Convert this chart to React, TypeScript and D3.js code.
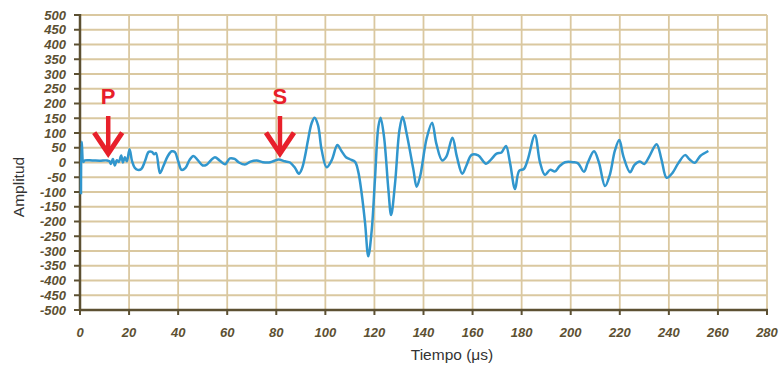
import React from 'react';
import * as d3 from 'd3';

// waveform samples
const timeUs = [
  0.4, 0.7, 1.4, 2, 5, 8, 11, 12, 12.6, 13.4, 14.2, 15.0, 15.8, 16.8, 17.5, 18.3, 19.1, 20.2, 21.2,
  22.3, 23.5, 25.0, 26.5, 28.0, 29.3, 30.2, 31.0, 32.6, 34.0, 35.8, 37.4, 38.7, 40.0, 41.4, 43.0,
  44.6, 46.2, 48.0, 50.0, 51.5, 53.2, 55.0, 57.0, 59.1, 61.1, 63.0, 64.8, 67.2, 69.5, 72.0, 74.5,
  77.0, 79.0, 81.0, 83.5, 85.6, 87.6, 89.2, 90.5, 91.8, 92.8, 94.4, 95.6, 97.0, 98.5, 100.5, 102.6,
  104.9, 106.5, 108.4, 110.0, 112.1, 113.4, 114.8, 116.2, 117.5, 118.9, 120.2, 121.6, 122.5, 123.9,
  125.7, 126.8, 128.4, 130.2, 131.5, 133.1, 135.9, 137.2, 138.6, 141.3, 143.5, 145.2, 147.6, 149.3,
  151.8, 153.6, 155.8, 157.5, 159.6, 162.3, 165.5, 167.5, 169.8, 171.8, 173.6, 175.3, 177.3, 179.0,
  180.9, 182.5, 185.4, 187.5, 189.5, 191.6, 193.6, 195.5, 197.7, 201.1, 203.0, 205.4, 207.0, 209.5,
  211.5, 214.0, 216.0, 218.0, 219.8, 221.5, 224.2, 226.0, 228.2, 230.0, 232.0, 235.0, 237.0, 239.1,
  241.5, 243.8, 246.6, 248.5, 250.6, 252.8, 256.1,
];
const amplitude = [
  -108, 70, 2, 7, 7, 6, 7, 4, -5, 12, -10, 8, 2, 24, 0, 18, 4, 45, 5,
  -18, -25, -22, 5, 36, 36, 28, 32, -36, -12, 22, 38, 35, 5, -25, -18,
  8, 22, 8, -10, -8, 6, 18, 6, -6, 14, 12, 0, -7, 3, 7, 1,
  0, 5, 10, 4, 0, -18, -38, -20, 25, 70, 133, 152, 127, 42, -16, 8,
  59, 40, 18, 11, 2, -31, -105, -206, -318, -229, -59, 121, 152, 88,
  -93, -178, -71, 110, 155, 99, -25, -82, -48, 82, 135, 65, 7, 20,
  84, 20, -38, -10, 26, 24, -4, 10, 30, 34, 56, -3, -90, -28,
  -22, 10, 92, 0, -42, -25, -30, -12, 1, 1, -3, -31, 0, 38,
  0, -80, -40, 40, 76, 20, -33, -8, 3, -5, 20, 62, 10, -52,
  -35, -3, 25, 10, -1, 22, 39,
];

const xTicks = d3.range(0, 281, 20);
const yTicks = d3.range(-500, 501, 50);

// arrival markers
const markers = [
  { label: 'P', t: 11.5 },
  { label: 'S', t: 81.5 },
];

const W = 781;
const H = 366;
const AXIS = '#5c5032';
const GRID = '#dac8a0';
const LINE = '#3196cd';
const RED = '#e8202a';
const tickFont = "'Liberation Sans', Arial, sans-serif";

export default function App() {
  const x = d3.scaleLinear().domain([0, 280]).range([80, 767]);
  const y = d3.scaleLinear().domain([-500, 500]).range([310, 15]);

  const pts = timeUs.map((t, i) => [t, amplitude[i]] as [number, number]);
  const line = d3
    .line<[number, number]>()
    .x((d) => x(d[0]))
    .y((d) => y(d[1]))
    .curve(d3.curveCatmullRom.alpha(0.5));

  return (
    <svg
      width={W}
      height={H}
      style={{ position: 'absolute', left: 0, top: 0, background: '#fff' }}
    >
      {/* grid */}
      {yTicks.filter((v) => v > -500).map((v) => (
        <line key={'gy' + v} x1={x(0)} x2={x(280)} y1={y(v)} y2={y(v)} stroke={GRID} strokeWidth={1.8} />
      ))}
      {xTicks.filter((v) => v > 0).map((v) => (
        <line key={'gx' + v} x1={x(v)} x2={x(v)} y1={y(500)} y2={y(-500)} stroke={GRID} strokeWidth={1.8} />
      ))}

      {/* axes */}
      <line x1={x(0)} x2={x(0)} y1={y(500) - 1} y2={y(-500) + 1} stroke={AXIS} strokeWidth={2.5} />
      <line x1={x(0)} x2={x(280) + 1} y1={y(-500)} y2={y(-500)} stroke={AXIS} strokeWidth={2.5} />
      {yTicks.map((v) => (
        <g key={'ty' + v}>
          <line x1={x(0) - 6} x2={x(0)} y1={y(v)} y2={y(v)} stroke={AXIS} strokeWidth={2} />
          <text
            x={x(0) - 14}
            y={y(v)}
            dy="0.35em"
            textAnchor="end"
            fontFamily={tickFont}
            fontWeight="bold"
            fontStyle="italic"
            fontSize={13}
            fill={AXIS}
          >
            {v}
          </text>
        </g>
      ))}
      {xTicks.map((v) => (
        <g key={'tx' + v}>
          <line x1={x(v)} x2={x(v)} y1={y(-500)} y2={y(-500) + 5} stroke={AXIS} strokeWidth={2} />
          <text
            x={x(v)}
            y={y(-500) + 22}
            dy="0.35em"
            textAnchor="middle"
            fontFamily={tickFont}
            fontWeight="bold"
            fontStyle="italic"
            fontSize={13}
            fill={AXIS}
          >
            {v}
          </text>
        </g>
      ))}

      {/* axis titles */}
      <text
        x={452}
        y={355}
        dy="0.35em"
        textAnchor="middle"
        fontFamily="'Liberation Sans', Arial, sans-serif"
        fontSize={15.5}
        fill="#333"
      >
        Tiempo (μs)
      </text>
      <text
        transform="translate(19,187) rotate(-90)"
        dy="0.35em"
        textAnchor="middle"
        fontFamily="'Liberation Sans', Arial, sans-serif"
        fontSize={15.5}
        fill="#333"
      >
        Amplitud
      </text>

      {/* waveform */}
      <path d={line(pts) ?? ''} fill="none" stroke={LINE} strokeWidth={2.5} strokeLinejoin="round" />

      {/* P / S arrows */}
      {markers.map((m) => {
        const cx = x(m.t);
        const tip = y(20);
        return (
          <g key={m.label}>
            <text
              x={cx}
              y={96}
              dy="0.36em"
              textAnchor="middle"
              fontFamily="'Liberation Sans', Arial, sans-serif"
              fontWeight="bold"
              fontSize={22}
              fill={RED}
            >
              {m.label}
            </text>
            <line x1={cx} x2={cx} y1={116} y2={tip - 3} stroke={RED} strokeWidth={4.5} />
            <path
              d={`M${cx - 14},${tip - 24} L${cx},${tip - 3} L${cx + 14},${tip - 24}`}
              fill="none"
              stroke={RED}
              strokeWidth={5}
            />
          </g>
        );
      })}
    </svg>
  );
}
